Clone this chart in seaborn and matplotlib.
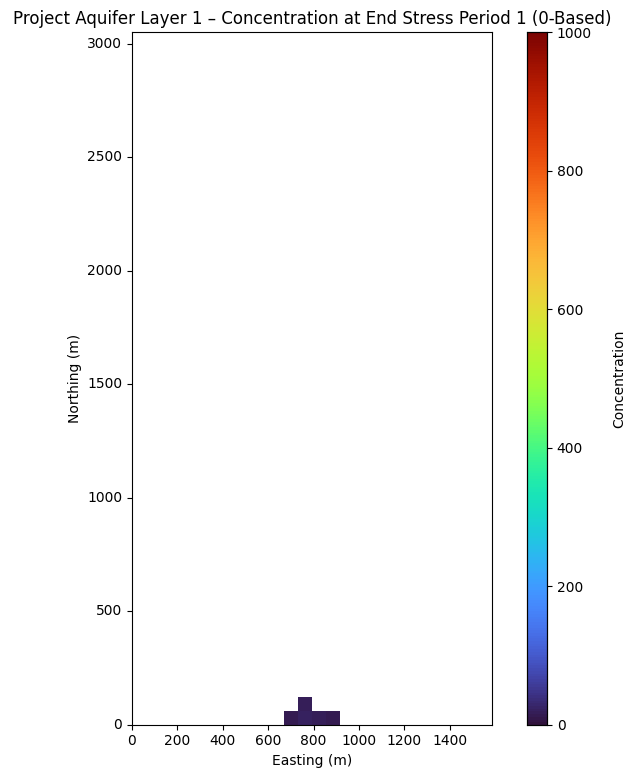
import matplotlib
matplotlib.use('Agg')
import matplotlib.pyplot as plt
import seaborn as sns
import numpy as np

# grid definition (model cells, metres)
nrow, ncol = 50, 26
cell_size = 61.0

# non-zero concentration cells (row counted from south edge)
cell_rows = [0, 0, 0, 0, 1]
cell_cols = [11, 12, 13, 14, 12]
cell_conc = [14.0, 22.0, 16.0, 14.0, 17.0]

x_ticks = [0, 200, 400, 600, 800, 1000, 1200, 1400]
y_ticks = [0, 500, 1000, 1500, 2000, 2500, 3000]
cbar_ticks = [0, 200, 400, 600, 800, 1000]

conc = np.full((nrow, ncol), np.nan)
for r, c, v in zip(cell_rows, cell_cols, cell_conc):
    conc[r, c] = v

fig = plt.figure(figsize=(6.35, 7.78), dpi=100)
ax = fig.add_axes([132 / 635, 53 / 778, 360 / 635, 693 / 778])
cax = fig.add_axes([527 / 635, 53 / 778, 20 / 635, 693 / 778])

sns.heatmap(conc, ax=ax, cbar_ax=cax, cmap='turbo', vmin=0, vmax=1000,
            square=True, cbar_kws={'ticks': cbar_ticks})
ax.invert_yaxis()  # row 0 at the bottom (south)

ax.set_xticks(np.array(x_ticks) / cell_size)
ax.set_xticklabels([str(t) for t in x_ticks], rotation=0)
ax.set_yticks(np.array(y_ticks) / cell_size)
ax.set_yticklabels([str(t) for t in y_ticks], rotation=0)
ax.tick_params(length=3.5, width=0.8, labelsize=10)
for s in ax.spines.values():
    s.set_visible(True)
    s.set_linewidth(0.8)
    s.set_color('black')

ax.set_xlabel('Easting (m)')
ax.set_ylabel('Northing (m)')
ax.set_title('Project Aquifer Layer 1 \u2013 Concentration at End Stress Period 1 (0-Based)')

cax.set_ylabel('Concentration', fontsize=10, labelpad=15)
cax.tick_params(length=3.5, width=0.8, labelsize=10)
for s in cax.spines.values():
    s.set_visible(True)
    s.set_linewidth(0.8)

fig.savefig('out.png', dpi=100)
